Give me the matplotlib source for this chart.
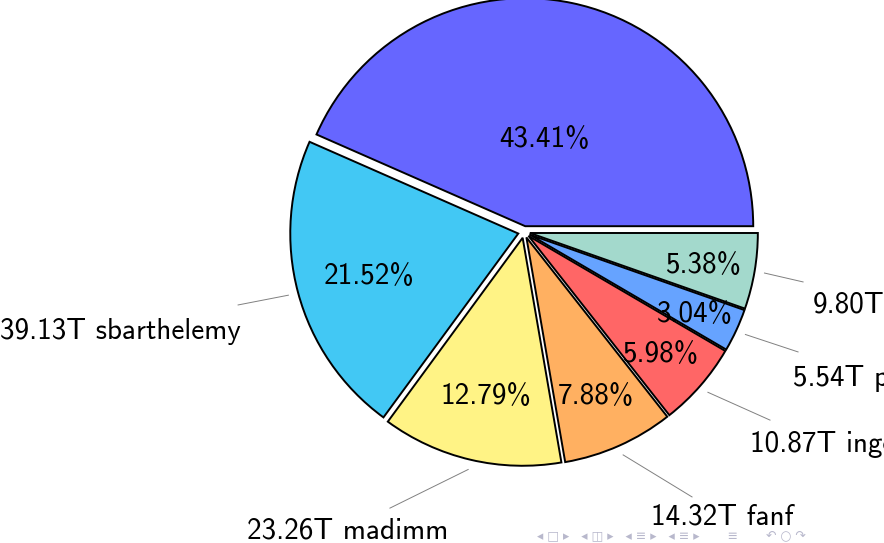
import numpy as np
import matplotlib
import matplotlib.pyplot as plt
from matplotlib import font_manager
import os

# Computer Modern Sans ships with matplotlib (beamer look)
cmss = os.path.join(matplotlib.get_data_path(), "fonts", "ttf", "cmss10.ttf")
font_manager.fontManager.addfont(cmss)
plt.rcParams["font.family"] = ["cmss10", "DejaVu Sans"]
plt.rcParams["axes.unicode_minus"] = False

# DATA
users = ["", "sbarthelemy", "madimm", "fanf", "ingo", "p", ""]
sizes_tb = [78.92, 39.13, 23.26, 14.32, 10.87, 5.54, 9.80]
percents = [43.41, 21.52, 12.79, 7.88, 5.98, 3.04, 5.38]
colors = ["#6666ff", "#42c8f4", "#fff385", "#ffb061", "#ff6666", "#66a3ff", "#a3d9cc"]

# label layout (units of pie radius): text anchor, alignment, leader end
label_pos = [None, (-1.241, -0.421), (-0.772, -1.298), (0.557, -1.237),
             (0.991, -0.917), (1.180, -0.627), (1.268, -0.307)]
label_ha = [None, "right", "center", "left", "left", "left", "left"]
leader_end = [None, (-1.254, -0.320), (-0.588, -1.211), (0.737, -1.162),
              (1.079, -0.825), (1.202, -0.526), (1.224, -0.219)]

explode = 0.026
fs = 21
dy = -0.014  # small baseline correction for text

fig = plt.figure(figsize=(8.84, 5.43), dpi=100)
ax = fig.add_axes([0, 0, 1, 1])

wedges, _ = ax.pie(
    percents,
    colors=colors,
    explode=[explode] * len(percents),
    startangle=0,
    counterclock=True,
    radius=1.0,
    wedgeprops=dict(edgecolor="black", linewidth=1.4),
)

for i, w in enumerate(wedges):
    span = w.theta2 - w.theta1
    mid = np.deg2rad((w.theta1 + w.theta2) / 2)
    # number placement like pgf-pie
    f = 0.8 + max(min((span - 10) / 110 * (-0.3), 0), -0.5)
    if span > 60 and span < 120:
        f += 0.06
    r = f + explode
    ax.text(r * np.cos(mid), r * np.sin(mid) + dy, f"{percents[i]:.2f}%",
            ha="center", va="center", fontsize=fs, color="black")

    if label_pos[i] is None:
        continue
    rs = 1.07
    x0, y0 = rs * np.cos(mid), rs * np.sin(mid)
    x1, y1 = leader_end[i]
    ax.plot([x0, x1], [y0, y1], color="#808080", linewidth=0.7)
    name = f"{sizes_tb[i]:.2f}T {users[i]}".strip()
    ax.text(label_pos[i][0], label_pos[i][1] + dy, name,
            ha=label_ha[i], va="center", fontsize=fs, color="black")

# beamer navigation symbols
fig.text(0.607, 0.001, "◂ □ ▸   ◂ ◫ ▸   ◂ ≡ ▸   ◂ ≡ ▸       ≡       ↶ ○ ↷",
         family="DejaVu Sans", fontsize=9, color="#b8b8cc", ha="left", va="bottom")

ax.set_xlim(-524 / 228, (884 - 524) / 228)
ax.set_ylim(-(543 - 232) / 228, 232 / 228)
ax.set_aspect("equal")
ax.axis("off")

fig.savefig("out.png", dpi=100)
